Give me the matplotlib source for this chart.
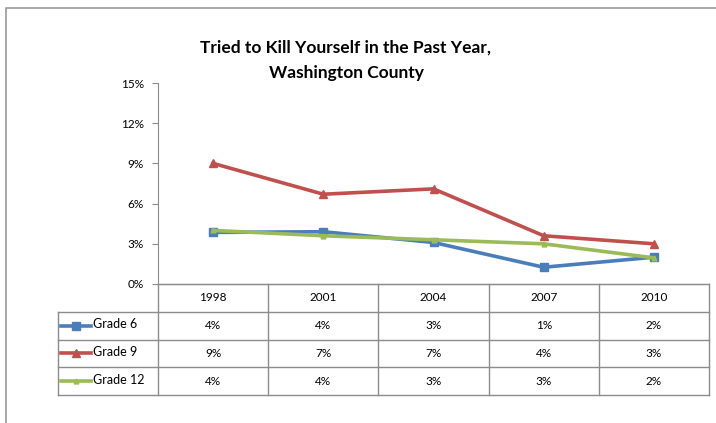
import matplotlib
matplotlib.use("Agg")
import matplotlib.pyplot as plt
from matplotlib.lines import Line2D
from matplotlib.ticker import FuncFormatter

plt.rcParams['font.family'] = ['Lato', 'DejaVu Sans']

years = ['1998', '2001', '2004', '2007', '2010']
series_names = ['Grade 6', 'Grade 9', 'Grade 12']
grade6 = [3.85, 3.9, 3.1, 1.25, 2.0]
grade9 = [9.0, 6.7, 7.1, 3.6, 3.0]
grade12 = [4.0, 3.6, 3.3, 3.0, 1.95]
table_grade6 = ['4%', '4%', '3%', '1%', '2%']
table_grade9 = ['9%', '7%', '7%', '4%', '3%']
table_grade12 = ['4%', '4%', '3%', '3%', '2%']
y_ticks = [0, 3, 6, 9, 12, 15]

colors = ['#4a7ebb', '#c0504d', '#9bbb59']
markers = ['s', '^', '^']
msizes = [5.5, 6, 3.5]
values = [grade6, grade9, grade12]
cells = [table_grade6, table_grade9, table_grade12]

W, H = 716, 423
fig = plt.figure(figsize=(W / 100, H / 100), dpi=100)

def px_axes(x0, y0, x1, y1):
    return fig.add_axes([x0 / W, 1 - y1 / H, (x1 - x0) / W, (y1 - y0) / H])

# outer chart border (partly cropped in the original)
border = fig.add_axes([0, 0, 1, 1])
border.set_axis_off()
border.set_xlim(0, W)
border.set_ylim(H, 0)
border.plot([6, 6, W + 5], [H + 5, 8, 8], color='#9a9a9a', lw=1.2, clip_on=False)

# line chart
ax = px_axes(158, 83, 709, 284)
x = range(len(years))
for vals, c, m, ms in zip(values, colors, markers, msizes):
    ax.plot(x, vals, color=c, lw=2.6, marker=m, markersize=ms,
            markeredgecolor=c, markerfacecolor=c, solid_joinstyle='round')
ax.set_xlim(-0.5, len(years) - 0.5)
ax.set_ylim(0, 15)
ax.set_yticks(y_ticks)
ax.yaxis.set_major_formatter(FuncFormatter(lambda v, p: f'{v:.0f}%'))
ax.set_xticks([])
for s in ['top', 'right']:
    ax.spines[s].set_visible(False)
ax.spines['left'].set_color('#8c8c8c')
ax.spines['bottom'].set_color('#8c8c8c')
ax.tick_params(axis='y', length=4, color='#8c8c8c', labelsize=8.5, pad=6)
ax.set_facecolor('none')

fig.text(346 / W, 1 - 60 / H, 'Tried to Kill Yourself in the Past Year,\nWashington County',
         ha='center', va='center', fontsize=12.5, fontweight='bold', linespacing=1.75)

# data table
label_w = (158 - 58) / ((709 - 158) / len(years))
tax = px_axes(58, 284, 709, 395)
tax.set_axis_off()
tax.set_xlim(-0.5 - label_w, len(years) - 0.5)
tax.set_ylim(len(series_names) + 1, 0)
grid_c = '#8c8c8c'
nrows = len(series_names) + 1
left = -0.5 - label_w
right = len(years) - 0.5
# horizontal lines
tax.plot([-0.5, right], [0, 0], color=grid_c, lw=1, clip_on=False)
for r in range(1, nrows + 1):
    tax.plot([left, right], [r, r], color=grid_c, lw=1, clip_on=False)
# vertical lines
tax.plot([left, left], [1, nrows], color=grid_c, lw=1, clip_on=False)
for i in range(len(years) + 1):
    tax.plot([i - 0.5, i - 0.5], [0, nrows], color=grid_c, lw=1, clip_on=False)

for i, yr in enumerate(years):
    tax.text(i, 0.5, yr, ha='center', va='center', fontsize=8.5)
for r, (name, row, c, m, ms) in enumerate(zip(series_names, cells, colors, markers, msizes), start=1):
    for i, v in enumerate(row):
        tax.text(i, r + 0.5, v, ha='center', va='center', fontsize=8.5)
    kx0 = left + 0.03
    kx1 = left + 0.3
    tax.add_line(Line2D([kx0, kx1], [r + 0.5, r + 0.5], color=c, lw=2.6))
    tax.plot([(kx0 + kx1) / 2], [r + 0.5], marker=m, color=c, markersize=ms)
    tax.text(kx1 + 0.02, r + 0.45, name, ha='left', va='center', fontsize=9)

fig.savefig('out.png', dpi=100)
